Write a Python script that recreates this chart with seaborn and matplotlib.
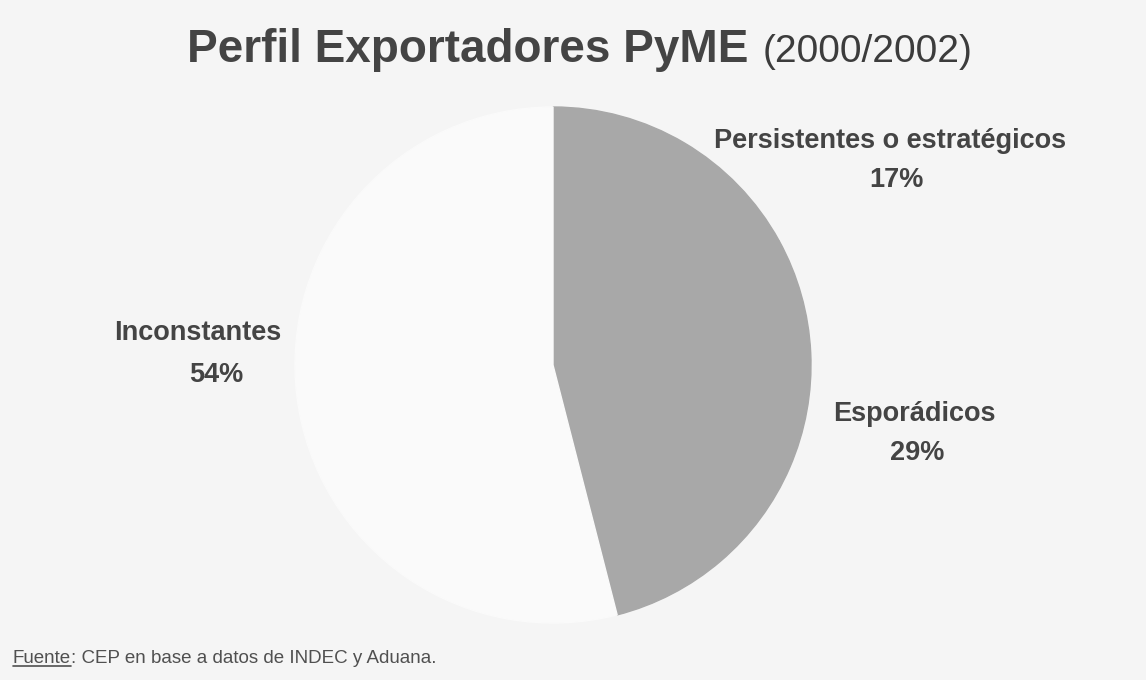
import numpy as np
import pandas as pd
import seaborn as sns
import matplotlib.pyplot as plt
from matplotlib.lines import Line2D

# data
categorias = ["Persistentes o estratégicos", "Esporádicos", "Inconstantes"]
porcentajes = [17, 29, 54]
etiquetas_pct = ["17%", "29%", "54%"]

titulo = "Perfil Exportadores PyME"
subtitulo = "(2000/2002)"
fuente = ": CEP en base a datos de INDEC y Aduana."

df = pd.DataFrame({"categoria": categorias, "pct": porcentajes, "txt": etiquetas_pct})

sns.set_theme(style="white")
plt.rcParams["font.family"] = ["Liberation Sans", "DejaVu Sans"]

fondo = "#f5f5f5"
colores = ["#a8a8a8", "#a8a8a8", "#fafafa"]
texto = "#444444"

fig = plt.figure(figsize=(11.46, 6.8), dpi=100, facecolor=fondo)
W, H = 1146, 680
cx, cy, r = 553, 365, 258
ax = fig.add_axes([(cx - r) / W, (H - cy - r) / H, 2 * r / W, 2 * r / H])
ax.set_facecolor(fondo)

wedges, _ = ax.pie(df["pct"], colors=colores, startangle=90, counterclock=False,
                   radius=1)
for w, c in zip(wedges, colores):
    w.set_edgecolor(c)
    w.set_linewidth(1.0)
ax.set_xlim(-1, 1)
ax.set_ylim(-1, 1)
ax.set_aspect("equal")
ax.axis("off")

# label placement in pie radius units: (x name, y name, x pct, y pct), baselines
pos_lbl = [(1.306, 0.841, 1.333, 0.69),
           (1.40, -0.217, 1.41, -0.368),
           (-1.376, 0.097, -1.306, -0.066)]
for (xn, yn, xp, yp), nom, pc in zip(pos_lbl, df["categoria"], df["txt"]):
    ax.text(xn, yn, nom, ha="center", va="baseline", fontsize=19.5,
            fontweight="bold", color=texto, clip_on=False)
    ax.text(xp, yp, pc, ha="center", va="baseline", fontsize=19.5,
            fontweight="bold", color=texto, clip_on=False)

t1 = fig.text(187 / W, 1 - 62 / H, titulo, ha="left", va="baseline",
              fontsize=33, fontweight="bold", color=texto)
fig.canvas.draw()
b1 = t1.get_window_extent()
fig.text(b1.x1 / W + 14 / W, 1 - 62 / H, subtitulo, ha="left", va="baseline",
         fontsize=28, color="#3c3c3c")

# source line with underlined "Fuente"
tf = fig.text(13 / W, 1 - 663 / H, "Fuente", ha="left", va="baseline",
              fontsize=13.5, color="#505050")
fig.canvas.draw()
bb = tf.get_window_extent()
y_ul = (H - 666) / H
fig.add_artist(Line2D([bb.x0 / W, bb.x1 / W], [y_ul, y_ul], lw=1.2,
                      color="#505050", transform=fig.transFigure))
fig.text(bb.x1 / W, 1 - 663 / H, fuente, ha="left", va="baseline",
         fontsize=13.5, color="#505050")

fig.savefig("out.png", dpi=100, facecolor=fondo)
